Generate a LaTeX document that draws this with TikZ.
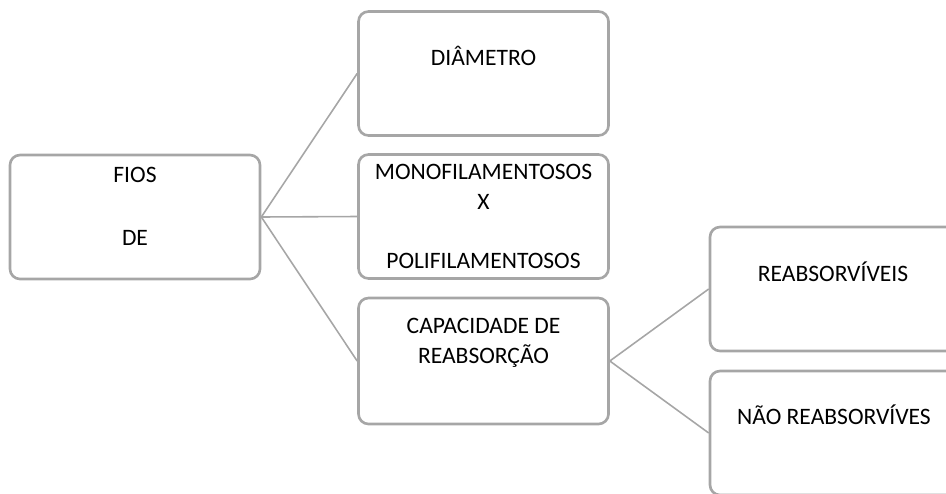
\documentclass[tikz,border=0pt]{standalone}
\usepackage{fontspec}
\setmainfont{Carlito}
\usepackage{tikz}
\definecolor{boxgray}{HTML}{A6A6A6}

\begin{document}
\begin{tikzpicture}[
    caixa/.style={draw=boxgray, line width=1.5pt, rounded corners=0.2cm,
      minimum width=5cm, minimum height=2.48cm},
    texto/.style={align=center, font=\fontsize{13.4}{17}\selectfont},
    ligacao/.style={draw=boxgray, line width=0.9pt}
  ]
    \useasboundingbox (0, 0) rectangle (18.92, 9.86);
    \clip (0, 0) rectangle (18.92, 9.86);

    \node [caixa] (fios) at (2.7, 5.52) {};
    \node [caixa] (diam) at (9.67, 8.39) {};
    \node [caixa] (mono) at (9.67, 5.53) {};
    \node [caixa, minimum height=2.52cm] (cap) at (9.67, 2.64) {};
    \node [caixa] (reab) at (16.7, 4.08) {};
    \node [caixa] (nao) at (16.7, 1.2) {};

    \node [texto] (fios-txt) at (2.7, 5.73) {FIOS\\[18.8pt]DE};
    \node [texto] (diam-txt) at (9.67, 8.74) {DIÂMETRO};
    \node [texto] (mono-txt) at (9.67, 5.53) {MONOFILAMENTOSOS\\X\\[17pt]POLIFILAMENTOSOS};
    \node [texto] (cap-txt) at (9.67, 3.0) {CAPACIDADE DE\\REABSORÇÃO};
    \node [texto] (reab-txt) at (16.66, 4.42) {REABSORVÍVEIS};
    \node [texto] (nao-txt) at (16.68, 1.56) {NÃO REABSORVÍVES};

    \draw [ligacao] (fios.east) -- (diam.west);
    \draw [ligacao] (fios.east) -- (mono.west);
    \draw [ligacao] (fios.east) -- (cap.west);
    \draw [ligacao] (cap.east) -- (reab.west);
    \draw [ligacao] (cap.east) -- (nao.west);
  \end{tikzpicture}
\end{document}
